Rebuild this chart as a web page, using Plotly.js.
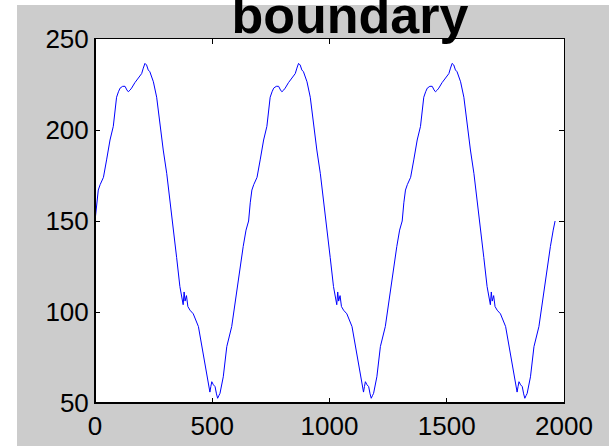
<!DOCTYPE html>
<html>
<head>
<meta charset="utf-8">
<script src="https://cdn.plot.ly/plotly-3.0.1.min.js"></script>
<style>
html,body{margin:0;padding:0;background:#ffffff;}
#chart{width:609px;height:446px;}
</style>
</head>
<body>
<div id="chart"></div>
<script>
const titleText = "boundary";
const xTicks = [0, 500, 1000, 1500, 2000];
const yTicks = [50, 100, 150, 200, 250];

const xPos = [
  0, 7, 14, 22, 36, 50, 64, 78, 92, 100, 107, 118, 128, 136, 142, 150, 156, 170, 185, 199, 206, 213, 220, 227, 234, 249, 263, 277, 291, 306, 320, 334, 348, 362, 370, 376, 380, 384, 390, 396, 405, 419, 441, 455, 469, 483, 490, 494, 498, 505, 512, 518, 523, 528, 533, 547, 562, 583, 597, 611, 632, 644,
  655, 662, 669, 677, 691, 705, 719, 733, 747, 755, 762, 773, 783, 791, 797, 805, 811, 825, 840, 854, 861, 868, 875, 882, 889, 904, 918, 932, 946, 961, 975, 989, 1003, 1017, 1025, 1031, 1035, 1039, 1045, 1051, 1060, 1074, 1096, 1110, 1124, 1138, 1145, 1149, 1153, 1160, 1167, 1173, 1178, 1183, 1188, 1202, 1217, 1238, 1252, 1266, 1287, 1299,
  1310, 1317, 1324, 1332, 1346, 1360, 1374, 1388, 1402, 1410, 1417, 1428, 1438, 1446, 1452, 1460, 1466, 1480, 1495, 1509, 1516, 1523, 1530, 1537, 1544, 1559, 1573, 1587, 1601, 1616, 1630, 1644, 1658, 1672, 1680, 1686, 1690, 1694, 1700, 1706, 1715, 1729, 1751, 1765, 1779, 1793, 1800, 1804, 1808, 1815, 1822, 1828, 1833, 1838, 1843, 1857, 1872, 1893, 1907, 1921, 1942, 1954, 1962
];

const boundary = [
  150, 160, 167, 170, 174, 184, 194.5, 202, 218, 221, 223, 224, 224, 222, 221, 222, 223, 226, 228.5, 231, 234, 236.6, 235.7, 233, 232, 226.5, 218, 202, 189, 176, 161.5, 145, 130, 114, 108, 104, 111, 106, 109, 103, 101, 99, 92, 81, 72, 59, 56, 59, 61.7, 60, 59, 55, 52.6, 54, 55.3, 64.4, 81, 92, 105, 119, 136, 145,
  150, 160, 167, 170, 174, 184, 194.5, 202, 218, 221, 223, 224, 224, 222, 221, 222, 223, 226, 228.5, 231, 234, 236.6, 235.7, 233, 232, 226.5, 218, 202, 189, 176, 161.5, 145, 130, 114, 108, 104, 111, 106, 109, 103, 101, 99, 92, 81, 72, 59, 56, 59, 61.7, 60, 59, 55, 52.6, 54, 55.3, 64.4, 81, 92, 105, 119, 136, 145,
  150, 160, 167, 170, 174, 184, 194.5, 202, 218, 221, 223, 224, 224, 222, 221, 222, 223, 226, 228.5, 231, 234, 236.6, 235.7, 233, 232, 226.5, 218, 202, 189, 176, 161.5, 145, 130, 114, 108, 104, 111, 106, 109, 103, 101, 99, 92, 81, 72, 59, 56, 59, 61.7, 60, 59, 55, 52.6, 54, 55.3, 64.4, 81, 92, 105, 119, 136, 145, 150
];

const W = 609, H = 446;
const M = {l: 95, r: 45, t: 39, b: 43};
const pw = W - M.l - M.r, ph = H - M.t - M.b;
function px2x(p){ return (p - M.l) / pw; }
function py2y(p){ return (H - M.b - p) / ph; }

const trace = {
  x: xPos, y: boundary, type: 'scatter', mode: 'lines',
  line: {color: '#0000ff', width: 1},
  hoverinfo: 'skip'
};

const axisCommon = {
  showgrid: false, zeroline: false,
  showline: true, linecolor: '#000000', linewidth: 1,
  mirror: 'ticks', ticks: 'inside', ticklen: 5, tickwidth: 1, tickcolor: '#000000',
  tickfont: {family: 'Liberation Sans, Arial, sans-serif', size: 26, color: '#000000'},
  fixedrange: true
};

const layout = {
  width: W, height: H,
  margin: M,
  paper_bgcolor: '#cccccc',
  plot_bgcolor: '#ffffff',
  showlegend: false,
  title: {
    text: '<b>' + titleText + '</b>',
    font: {family: 'Liberation Sans, Arial, sans-serif', size: 52, color: '#000000'},
    xref: 'container', yref: 'container',
    x: 350 / W, xanchor: 'center',
    y: 1 - 15 / H, yanchor: 'middle'
  },
  xaxis: Object.assign({}, axisCommon, {
    range: [0, 2000], tickvals: xTicks, ticktext: xTicks.map(String)
  }),
  yaxis: Object.assign({}, axisCommon, {
    range: [50, 250], tickvals: yTicks, ticktext: yTicks.map(String)
  }),
  shapes: [
    {type: 'rect', xref: 'paper', yref: 'paper', layer: 'above',
     x0: px2x(0), x1: px2x(17), y0: py2y(H), y1: py2y(0),
     fillcolor: '#ffffff', line: {width: 0}},
    {type: 'rect', xref: 'paper', yref: 'paper', layer: 'above',
     x0: px2x(0), x1: px2x(W), y0: py2y(5), y1: py2y(0),
     fillcolor: '#ffffff', line: {width: 0}},
    {type: 'line', xref: 'paper', yref: 'paper', layer: 'above',
     x0: 0, x1: 0, y0: 0, y1: 1, line: {color: '#000000', width: 2}},
    {type: 'line', xref: 'paper', yref: 'paper', layer: 'above',
     x0: 0, x1: 1, y0: 0, y1: 0, line: {color: '#000000', width: 2}}
  ]
};

Plotly.newPlot('chart', [trace], layout, {displayModeBar: false, staticPlot: true});
</script>
</body>
</html>
